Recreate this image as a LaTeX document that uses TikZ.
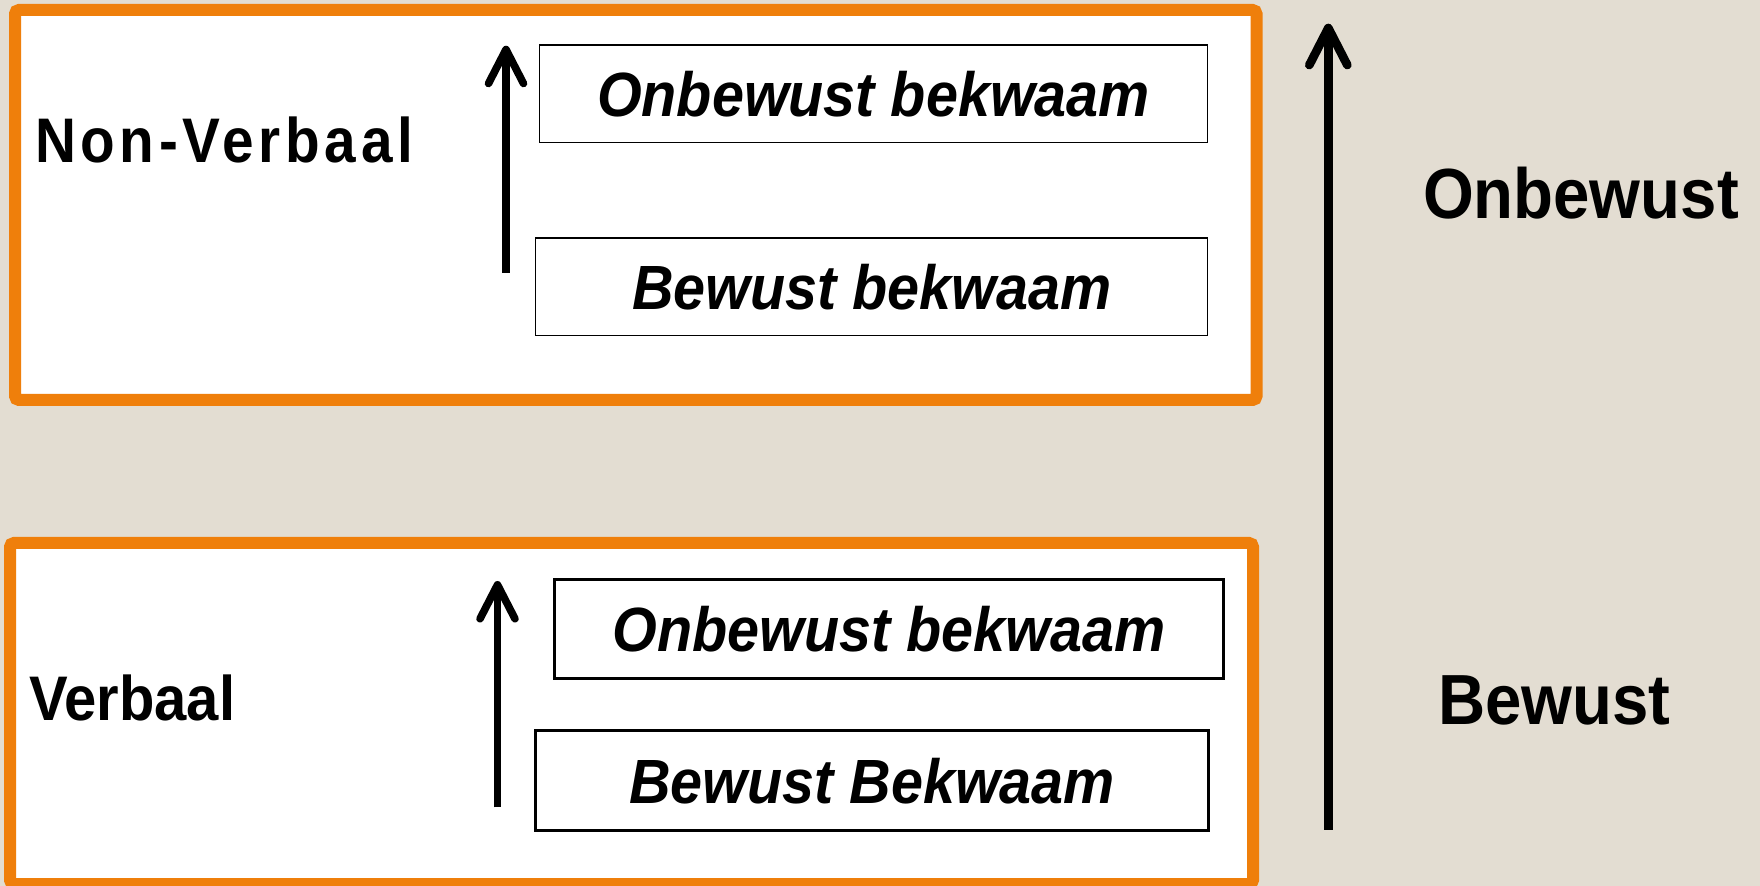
\documentclass[tikz,border=0pt]{standalone}
\usepackage{fontspec}
\setmainfont{Liberation Sans}
\newfontfamily\condfont[FakeStretch=0.92]{Liberation Sans}
\newfontfamily\spacedfont[FakeStretch=0.9,LetterSpace=7.5]{Liberation Sans}
\usetikzlibrary{arrows.meta}
\definecolor{bgc}{HTML}{E3DDD2}
\definecolor{org}{HTML}{EF7F0B}
\tikzset{
  frame/.style={draw=org, line width=6pt, fill=white, rounded corners=2pt, inner sep=0pt, outer sep=0pt},
  thinbox/.style={draw=black, line width=0.7pt, fill=white, inner sep=0pt, outer sep=0pt,
    font=\condfont\bfseries\itshape\fontsize{31.25pt}{36pt}\selectfont},
  thickbox/.style={thinbox, line width=1.4pt},
  sidelabel/.style={anchor=base west, inner sep=0pt, outer sep=0pt,
    font=\condfont\bfseries\fontsize{31.5pt}{36pt}\selectfont},
  biglabel/.style={anchor=base west, inner sep=0pt, outer sep=0pt,
    font=\condfont\bfseries\fontsize{35.5pt}{40pt}\selectfont},
  uparrow/.style={line width=3.8pt, -{Straight Barb[length=17pt,width=17.5pt,round]}},
  bigarrow/.style={line width=4.35pt, -{Straight Barb[length=18.5pt,width=19pt,round]}}
}
\begin{document}
\begin{tikzpicture}[x=0.5pt,y=-0.5pt]
\useasboundingbox (0,0) rectangle (1760,886);
\clip (0,0) rectangle (1760,886);
\fill[bgc] (0,0) rectangle (1760,886);

% orange frames
\node[frame, minimum width=620.75pt, minimum height=195pt] (topframe) at (635.75,205) {};
\node[frame, minimum width=621.5pt, minimum height=170.5pt] (botframe) at (631.5,713.5) {};

% top group
\node[thinbox, minimum width=334.15pt, minimum height=48.65pt] (tob) at (873.5,93.7) {Onbewust bekwaam};
\node[thinbox, minimum width=335.95pt, minimum height=48.85pt] (tbb) at (871.7,286.9) {Bewust bekwaam};
\node[sidelabel, font=\spacedfont\bfseries\fontsize{31.5pt}{36pt}\selectfont] (nonverb) at (35,163) {Non-Verbaal};
\coordinate (ta1) at (506,272.7);
\coordinate (ta2) at (506,45.7);
\draw[uparrow] (ta1) -- (ta2);

% bottom group
\node[thickbox, minimum width=334.5pt, minimum height=49.5pt] (bob) at (889,628.8) {Onbewust bekwaam};
\node[thickbox, minimum width=336.5pt, minimum height=50pt] (bbb) at (872.2,780.7) {Bewust Bekwaam};
\node[sidelabel] (verb) at (29,720) {Verbaal};
\coordinate (ba1) at (497.5,807.3);
\coordinate (ba2) at (497.5,581);
\draw[uparrow] (ba1) -- (ba2);

% right side
\coordinate (ra1) at (1328.3,829.5);
\coordinate (ra2) at (1328.3,23.7);
\draw[bigarrow] (ra1) -- (ra2);
\node[biglabel] (onb) at (1423,219) {Onbewust};
\node[biglabel] (bew) at (1438,724) {Bewust};
\end{tikzpicture}
\end{document}
